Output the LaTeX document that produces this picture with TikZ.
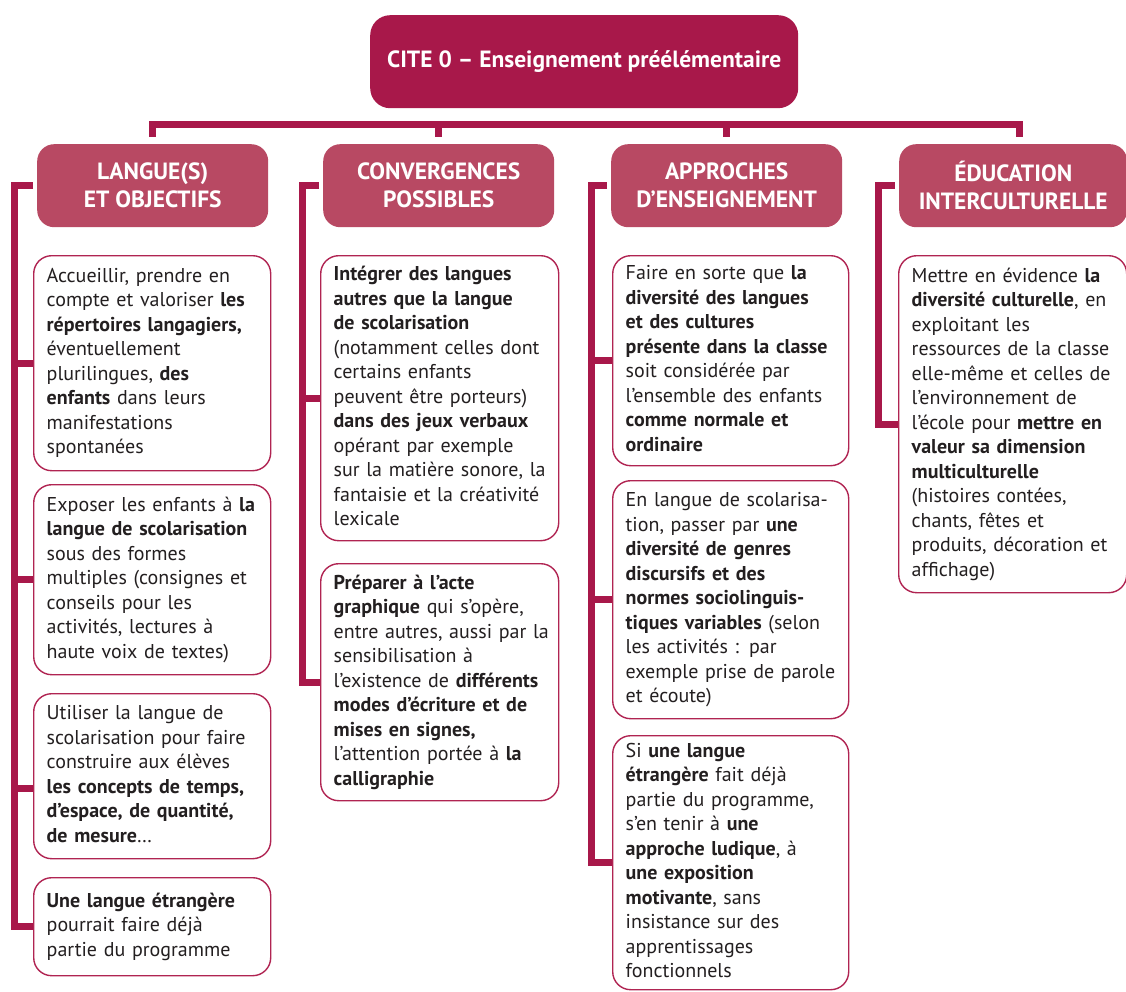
\documentclass[tikz,border=0pt]{standalone}
\usepackage{fontspec}
\setmainfont{PT Sans}
\usetikzlibrary{calc}
\definecolor{crim}{HTML}{A8184A}
\definecolor{headc}{HTML}{B84963}
\definecolor{txt}{HTML}{231F20}
\definecolor{bord}{HTML}{B02452}
\newcommand{\boxlines}[1]{\begin{tabular}{@{}l@{}}#1\end{tabular}}
\begin{document}
\begin{tikzpicture}[x=1pt,y=-1pt,
 br/.style={draw=crim,line width=7pt,line join=miter,line cap=butt},
 rootbox/.style={fill=crim,rounded corners=20pt,text=white,font=\fontsize{23.5}{28}\selectfont\bfseries,minimum width=428pt,minimum height=93pt,anchor=north west,inner sep=0pt},
 headbox/.style={fill=headc,rounded corners=17pt,text=white,font=\fontsize{23.5}{28}\selectfont\bfseries,minimum width=231pt,minimum height=83pt,anchor=north west,align=center,inner sep=0pt},
 cbox/.style={draw=bord,line width=1.4pt,rounded corners=18pt,fill=white,text=txt,font=\fontsize{20}{24.5}\selectfont,text width=211pt,inner xsep=13pt,inner ysep=0pt,align=left,anchor=north west}
]
\useasboundingbox (0,0) rectangle (1126,992);

\node[rootbox] (root) at (370,15) {CITE 0 – Enseignement préélémentaire};

\node[headbox] (H1) at (37,144) {LANGUE(S)\\ET OBJECTIFS};
\node[headbox] (H2) at (323,144) {CONVERGENCES\\POSSIBLES};
\node[headbox] (H3) at (611,144) {APPROCHES\\D’ENSEIGNEMENT};
\node[headbox,minimum width=228pt] (H4) at (899,144) {ÉDUCATION\\INTERCULTURELLE};

% column 1
\node[cbox,minimum height=215pt] (A1) at (33,255) {\boxlines{Accueillir, prendre en\\
compte et valoriser \textbf{les}\\
\textbf{répertoires langagiers,}\\
éventuellement\\
plurilingues, \textbf{des}\\
\textbf{enfants} dans leurs\\
manifestations\\
spontanées}};
\node[cbox,minimum height=190pt] (A2) at (33,484) {\boxlines{Exposer les enfants à \textbf{la}\\
\textbf{langue de scolarisation}\\
sous des formes\\
multiples (consignes et\\
conseils pour les\\
activités, lectures à\\
haute voix de textes)}};
\node[cbox,minimum height=165pt] (A3) at (33,693) {\boxlines{Utiliser la langue de\\
scolarisation pour faire\\
construire aux élèves\\
\textbf{les concepts de temps,}\\
\textbf{d’espace, de quantité,}\\
\textbf{de mesure}…}};
\node[cbox,minimum height=98pt] (A4) at (33,877) {\boxlines{\textbf{Une langue étrangère}\\
pourrait faire déjà\\
partie du programme}};

% column 2
\node[cbox,minimum height=285pt,text width=212pt] (B1) at (320,255) {\boxlines{\textbf{Intégrer des langues}\\
\textbf{autres que la langue}\\
\textbf{de scolarisation}\\
(notamment celles dont\\
certains enfants\\
peuvent être porteurs)\\
\textbf{dans des jeux verbaux}\\
opérant par exemple\\
sur la matière sonore, la\\
fantaisie et la créativité\\
lexicale}};
\node[cbox,minimum height=237pt,text width=212pt] (B2) at (320,563) {\boxlines{\textbf{Préparer à l’acte}\\
\textbf{graphique} qui s’opère,\\
entre autres, aussi par la\\
sensibilisation à\\
l’existence de \textbf{différents}\\
\textbf{modes d’écriture et de}\\
\textbf{mises en signes,}\\
l’attention portée à \textbf{la}\\
\textbf{calligraphie}}};

% column 3
\node[cbox,minimum height=210pt,text width=210pt] (C1) at (612,255) {\boxlines{Faire en sorte que \textbf{la}\\
\textbf{diversité des langues}\\
\textbf{et des cultures}\\
\textbf{présente dans la classe}\\
soit considérée par\\
l’ensemble des enfants\\
\textbf{comme normale et}\\
\textbf{ordinaire}}};
\node[cbox,minimum height=238pt,text width=210pt] (C2) at (612,480) {\boxlines{En langue de scolarisa-\\
tion, passer par \textbf{une}\\
\textbf{diversité de genres}\\
\textbf{discursifs et des}\\
\textbf{normes sociolinguis-}\\
\textbf{tiques variables} (selon\\
les activités : par\\
exemple prise de parole\\
et écoute)}};
\node[cbox,minimum height=254pt,text width=210pt] (C3) at (612,735) {\boxlines{Si \textbf{une langue}\\
\textbf{étrangère} fait déjà\\
partie du programme,\\
s’en tenir à \textbf{une}\\
\textbf{approche ludique}, à\\
\textbf{une exposition}\\
\textbf{motivante}, sans\\
insistance sur des\\
apprentissages\\
fonctionnels}};

% column 4
\node[cbox,minimum height=337pt,text width=202pt] (D1) at (898,255) {\boxlines{Mettre en évidence \textbf{la}\\
\textbf{diversité culturelle}, en\\
exploitant les\\
ressources de la classe\\
elle-même et celles de\\
l’environnement de\\
l’école pour \textbf{mettre en}\\
\textbf{valeur sa dimension}\\
\textbf{multiculturelle}\\
(histoires contées,\\
chants, fêtes et\\
produits, décoration et\\
affichage)}};

% top bar
\draw[br] ($(H1.north)+(0,-7)$) -- ++(0,-12.5) -| ($([xshift=6pt]H4.north)+(0,-7)$);
\draw[br] ($(H2.north)+(0,-7)$) -- ++(0,-12.5);
\draw[br] ($(H3.north)+(0,-7)$) -- ++(0,-12.5);

% brackets
\coordinate (k1) at (14,0);
\coordinate (k2) at (302,0);
\coordinate (k3) at (591,0);
\coordinate (k4) at (878,0);

\draw[br] ([xshift=-4pt]H1.west) -| (k1 |- A4.west) -- (A4.west);
\draw[br] (k1 |- A1.west) -- (A1.west);
\draw[br] (k1 |- A2.west) -- (A2.west);
\draw[br] ([yshift=-12pt]k1 |- A3.west) -- ([yshift=-12pt]A3.west);

\draw[br] ([xshift=-4pt]H2.west) -| (k2 |- B2.west) -- (B2.west);
\draw[br] (k2 |- B1.west) -- (B1.west);

\draw[br] ([xshift=-4pt]H3.west) -| (k3 |- C3.west) -- (C3.west);
\draw[br] (k3 |- C1.west) -- (C1.west);
\draw[br] (k3 |- C2.west) -- (C2.west);

\draw[br] ([xshift=-4pt]H4.west) -| (k4 |- D1.west) -- (D1.west);
\end{tikzpicture}
\end{document}
